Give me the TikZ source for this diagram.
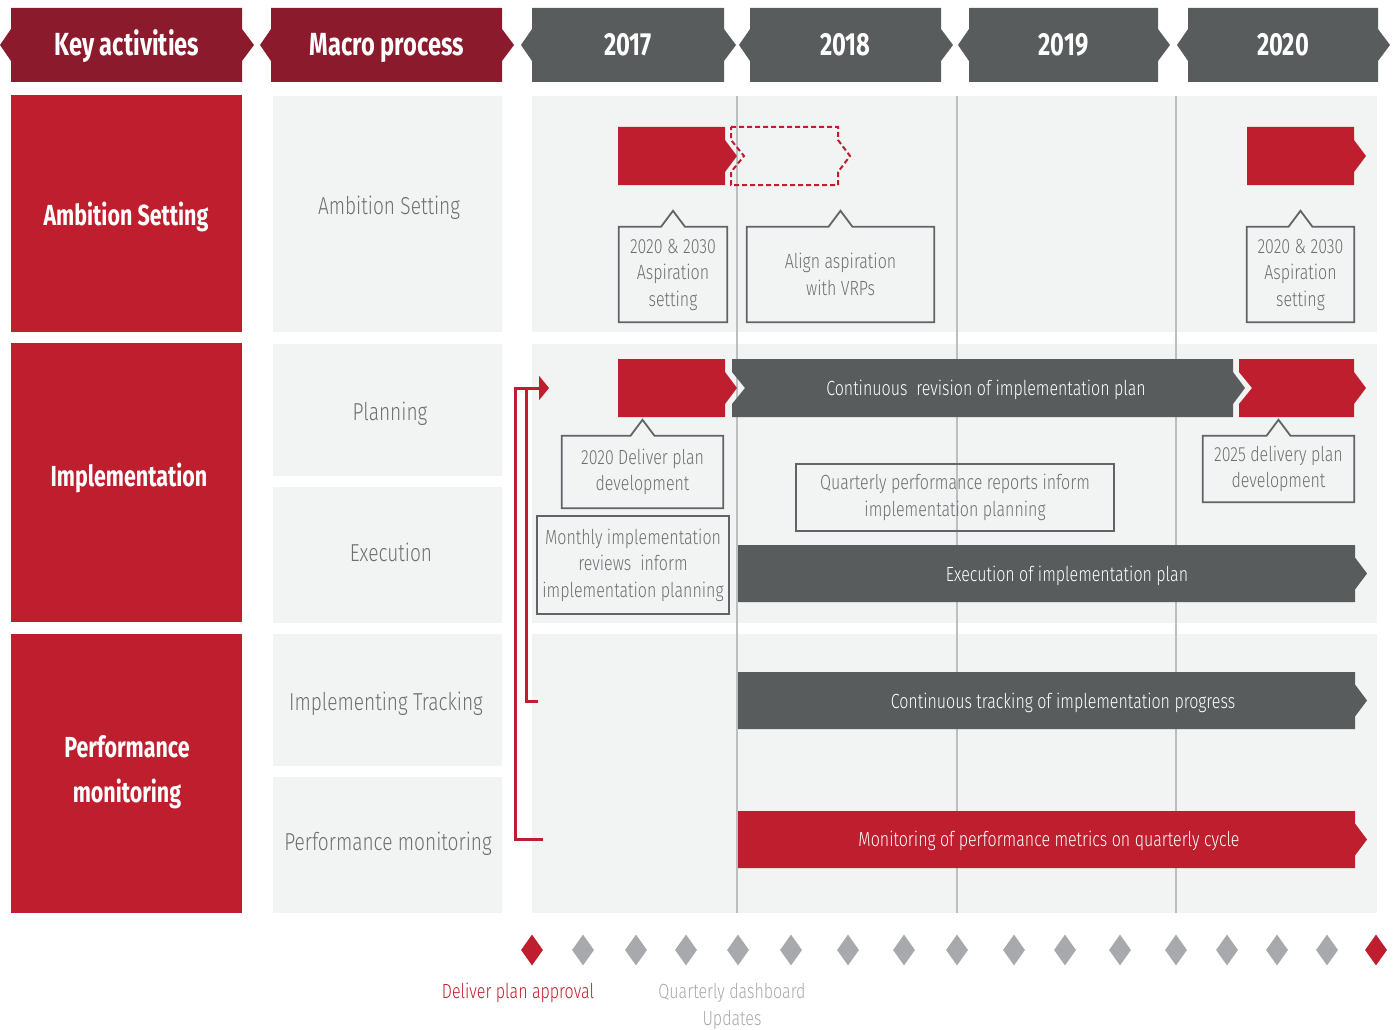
\documentclass[tikz,border=0pt]{standalone}
\usepackage{fontspec}
\setmainfont{Fira Sans}[FakeStretch=0.74]
\newfontfamily\lightfont{Fira Sans Light}[FakeStretch=0.78]
\usepackage{xcolor}
\usepackage{tikz}
\usetikzlibrary{shapes.geometric,arrows.meta,positioning}

\definecolor{hdred}{HTML}{8B1A2D}
\definecolor{bodyred}{HTML}{BE1E2D}
\definecolor{hdgray}{HTML}{595C5D}
\definecolor{panelgray}{HTML}{F2F3F3}
\definecolor{txtgray}{HTML}{6D6F72}
\definecolor{cgray}{HTML}{616366}
\definecolor{yrline}{HTML}{BCBEC0}
\definecolor{msgray}{HTML}{A7A9AC}

% bar with a point on the right; last argument: + notch / - point on the left
\newcommand{\chevron}[6]{%
  \path[#1] (#2,#4) -- (#3,#4) -- (#3,{(#4+#5)/2-16}) -- ({#3+12},{(#4+#5)/2})
    -- (#3,{(#4+#5)/2+16}) -- (#3,#5) -- (#2,#5) -- (#2,{(#4+#5)/2+16})
    -- ({#2+#6},{(#4+#5)/2}) -- (#2,{(#4+#5)/2-16}) -- cycle;}

\tikzset{
  headtext/.style={text=white, anchor=base, font=\fontsize{32}{36}\selectfont\bfseries},
  keytext/.style={text=white, anchor=base, align=center, font=\fontsize{29}{45}\selectfont\bfseries},
  macrotext/.style={text=txtgray, anchor=base, font=\lightfont\fontsize{24.5}{28}\selectfont},
  callout/.style={text=txtgray, align=center, inner sep=0pt, font=\lightfont\fontsize{20.5}{26.5}\selectfont},
  boxed/.style={callout, draw=cgray, line width=1.8pt},
  callline/.style={draw=cgray, line width=1.8pt},
  bartext/.style={text=white, yshift=-2pt, font=\lightfont\fontsize{20.5}{24}\selectfont},
  feedback/.style={draw=bodyred, line width=3pt},
  mstone/.style={diamond, inner sep=0pt, minimum width=22pt, minimum height=31pt},
  mslabel/.style={align=center, font=\lightfont\fontsize{20.5}{27}\selectfont},
}

\begin{document}
\begin{tikzpicture}[x=1pt,y=-1pt]
\useasboundingbox (0,0) rectangle (1394,1030);

% header row
\chevron{fill=hdred}{11}{242}{8}{82}{-11}
\chevron{fill=hdred}{271}{502}{8}{82}{-11}
\node[headtext] (hkey) at (127,56) {Key activities};
\node[headtext] (hmacro) at (387,56) {Macro process};
\foreach \xa/\xb/\yr in {532/724/2017,750/941/2018,969/1158/2019,1188/1378/2020}{
  \chevron{fill=hdgray}{\xa}{\xb}{8}{82}{-11}
  \node[headtext] (y\yr) at ({(\xa+\xb)/2},56) {\yr};
}

% key activities and macro process columns
\foreach \ya/\yb in {95/332,343/622,634/913}
  \fill[bodyred] (11,\ya) rectangle (242,\yb);
\foreach \ya/\yb in {96/332,344/476,487/623,634/766,777/913}
  \fill[panelgray] (273,\ya) rectangle (502,\yb);
\node[keytext] (kamb) at (126,225) {Ambition Setting};
\node[keytext] (kimp) at (129,486) {Implementation};
\node[keytext] (kperf) at (127,802) {Performance\\monitoring};
\node[macrotext] (mamb) at (389,214) {Ambition Setting};
\node[macrotext] (mplan) at (390,420) {Planning};
\node[macrotext] (mexec) at (391,561) {Execution};
\node[macrotext] (mtrack) at (386,710) {Implementing Tracking};
\node[macrotext] (mperf) at (388,850) {Performance monitoring};

% timeline panels and year lines
\foreach \ya/\yb in {96/332,344/623,634/913}
  \fill[panelgray] (532,\ya) rectangle (1377,\yb);
\foreach \x in {737,957,1176}
  \draw[yrline, line width=1.4pt] (\x,96) -- (\x,913);

% ambition setting
\chevron{fill=bodyred}{618}{725}{127}{185}{0}
\chevron{draw=bodyred, line width=2pt, dash pattern=on 5pt off 3pt}{731}{838}{127}{185}{13}
\chevron{fill=bodyred}{1247}{1354}{127}{185}{0}
\node[callout, minimum width=108pt, minimum height=95pt] (casp17) at (673,274.5) {2020 \& 2030\\Aspiration\\setting};
\node[callout, minimum width=187pt, minimum height=95pt] (cvrp) at (840.5,274.5) {Align aspiration\\with VRPs};
\node[callout, minimum width=107pt, minimum height=95pt] (casp20) at (1300.5,274.5) {2020 \& 2030\\Aspiration\\setting};

% implementation
\chevron{fill=bodyred}{618}{725}{359}{417}{0}
\chevron{fill=hdgray}{732}{1233}{359}{417}{13}
\chevron{fill=bodyred}{1239}{1354}{359}{417}{13}
\chevron{fill=hdgray}{738}{1355}{545}{602}{0}
\node[bartext] (trev) at (986,388) {Continuous\ \ revision of implementation plan};
\node[bartext] (texec) at (1067,574) {Execution of implementation plan};
\node[callout, minimum width=161pt, minimum height=72pt] (cdlv17) at (642.5,472) {2020 Deliver plan\\development};
\node[callout, minimum width=151pt, minimum height=66pt] (cdlv25) at (1278.5,469) {2025 delivery plan\\development};
\node[boxed, minimum width=192pt, minimum height=98pt] (cmonth) at (633,565) {Monthly implementation\\reviews\ \ inform\\implementation planning};
\node[boxed, minimum width=318pt, minimum height=67pt] (cqtr) at (955,497.5) {Quarterly performance reports inform\\implementation planning};
\foreach \c in {casp17,cvrp,casp20,cdlv17,cdlv25}
  \draw[callline] (\c.north west) -- ([xshift=-12pt]\c.north) -- ([yshift=16pt]\c.north)
    -- ([xshift=12pt]\c.north) -- (\c.north east) -- (\c.south east) -- (\c.south west) -- cycle;

% performance monitoring
\chevron{fill=hdgray}{738}{1355}{672}{729}{0}
\chevron{fill=bodyred}{738}{1355}{811}{868}{0}
\node[bartext] (ttrack) at (1063,701) {Continuous tracking of implementation progress};
\node[bartext] (tmon) at (1049,839) {Monitoring of performance metrics on quarterly cycle};

% feedback loops
\coordinate (fbtip) at (549,388);
\coordinate (fbjoin) at (526,388);
\coordinate (fbmon) at (543,839);
\coordinate (fbtrack) at (538,701);
\draw[feedback, -{Triangle[length=10pt,width=24pt]}] (fbmon) -- ++(-28,0) |- (fbtip);
\draw[feedback] (fbtrack) -| (fbjoin);

% milestones
\foreach \x/\col [count=\i] in {532/bodyred,583/msgray,636/msgray,686/msgray,738/msgray,
    791/msgray,848/msgray,904/msgray,957/msgray,1014/msgray,1065/msgray,1120/msgray,
    1176/msgray,1227/msgray,1277/msgray,1327/msgray,1376/bodyred}
  \node[mstone, fill=\col] (m\i) at (\x,950) {};
\node[mslabel, text=bodyred] (lapprove) at (518,993) {Deliver plan approval};
\node[mslabel, text=msgray] (lqdash) at (732,1006) {Quarterly dashboard\\Updates};
\end{tikzpicture}
\end{document}
